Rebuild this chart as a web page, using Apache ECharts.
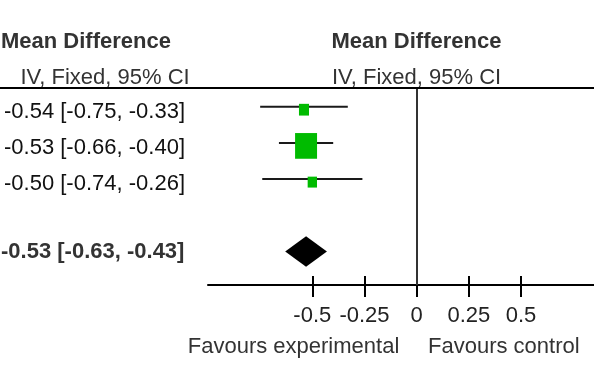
<!DOCTYPE html>
<html>
<head>
<meta charset="utf-8">
<script src="https://cdn.jsdelivr.net/npm/echarts@6/dist/echarts.min.js"></script>
<style>
html,body{margin:0;padding:0;background:#fff;}
#chart{width:594px;height:371px;}
</style>
</head>
<body>
<div id="chart"></div>
<script>
// ---- data ----
const studyRows = [1, 2, 3];
const meanDiff = [-0.54, -0.53, -0.50];
const ciLow = [-0.75, -0.66, -0.74];
const ciHigh = [-0.33, -0.40, -0.26];
const weights = [15, 72, 13];
const pooledRow = 5;
const pooledMean = -0.53;
const pooledLow = -0.63;
const pooledHigh = -0.43;
const xTickValues = [-0.5, -0.25, 0, 0.25, 0.5];
const headerTitle = 'Mean Difference';
const headerSub = 'IV, Fixed, 95% CI';
const favoursLeft = 'Favours experimental';
const favoursRight = 'Favours control';

// ---- helpers ----
const FONT = '"Liberation Sans", Arial, sans-serif';
const fmt = v => v.toFixed(2);
const ciText = (m, l, h) => fmt(m) + ' [' + fmt(l) + ', ' + fmt(h) + ']';

const textData = studyRows.map((r, i) => [meanDiff[i], r, ciText(meanDiff[i], ciLow[i], ciHigh[i]), 0]);
textData.push([pooledMean, pooledRow, ciText(pooledMean, pooledLow, pooledHigh), 1]);

const ciData = studyRows.map((r, i) => [ciLow[i], ciHigh[i], r]);
const squareData = studyRows.map((r, i) => [meanDiff[i], r, weights[i]]);
const diamondData = [[pooledLow, pooledMean, pooledHigh, pooledRow]];

const chart = echarts.init(document.getElementById('chart'), null, {renderer: 'canvas'});

const option = {
  animation: false,
  backgroundColor: '#ffffff',
  grid: {left: 208, right: 0, top: 88.6, bottom: 86, containLabel: false},
  xAxis: [{
    type: 'value', min: -1, max: 0.85, interval: 0.25,
    axisLine: {show: true, lineStyle: {color: '#000', width: 2}},
    axisTick: {show: true, customValues: xTickValues, length: 12, lineStyle: {color: '#000', width: 2}},
    axisLabel: {show: true, customValues: xTickValues, margin: 20, fontSize: 22, color: '#222', fontFamily: FONT},
    splitLine: {show: false}
  }, {
    type: 'value', min: -1, max: 0.85, interval: 0.25, position: 'bottom', offset: 0,
    axisLine: {show: false},
    axisTick: {show: true, inside: true, customValues: xTickValues, length: 9, lineStyle: {color: '#000', width: 2}},
    axisLabel: {show: false},
    splitLine: {show: false}
  }],
  yAxis: {
    type: 'value', inverse: true, min: 0.5, max: 5.925, show: false, splitLine: {show: false}
  },
  graphic: [
    {type: 'line', shape: {x1: 0, y1: 88, x2: 594, y2: 88}, style: {stroke: '#000', lineWidth: 2}, z: 10},
    {type: 'text', x: 1, y: 41.5, style: {text: headerTitle, font: 'bold 22px ' + FONT, fill: '#333', verticalAlign: 'middle', align: 'left'}},
    {type: 'text', x: 20.5, y: 78, style: {text: headerSub, font: '22px ' + FONT, fill: '#333', verticalAlign: 'middle', align: 'left'}},
    {type: 'text', x: 331.5, y: 41.5, style: {text: headerTitle, font: 'bold 22px ' + FONT, fill: '#333', verticalAlign: 'middle', align: 'left'}},
    {type: 'text', x: 332, y: 77.5, style: {text: headerSub, font: '22px ' + FONT, fill: '#333', verticalAlign: 'middle', align: 'left'}},
    {type: 'text', x: 293.5, y: 347, style: {text: favoursLeft, font: '22px ' + FONT, fill: '#333', verticalAlign: 'middle', align: 'center'}},
    {type: 'text', x: 428, y: 347, style: {text: favoursRight, font: '22px ' + FONT, fill: '#333', verticalAlign: 'middle', align: 'left'}}
  ],
  series: [
    {
      name: 'ci', type: 'custom', xAxisIndex: 0, yAxisIndex: 0,
      data: ciData,
      encode: {x: [0, 1], y: 2},
      renderItem: function (params, api) {
        const p1 = api.coord([api.value(0), api.value(2)]);
        const p2 = api.coord([api.value(1), api.value(2)]);
        return {type: 'line', shape: {x1: p1[0], y1: p1[1], x2: p2[0], y2: p2[1]}, style: {stroke: '#1a1a1a', lineWidth: 2}};
      },
      markLine: {
        silent: true, symbol: 'none', label: {show: false},
        lineStyle: {color: '#333', width: 2, type: 'solid'},
        data: [{xAxis: 0}]
      },
      z: 2
    },
    {
      name: 'squares', type: 'scatter', xAxisIndex: 0, yAxisIndex: 0,
      data: squareData,
      symbol: 'rect',
      symbolSize: function (v) { const s = 2.59 * Math.sqrt(v[2]); return [s, s * 1.17]; },
      symbolOffset: [0, 3],
      itemStyle: {color: '#00BB00', opacity: 1},
      z: 3
    },
    {
      name: 'diamond', type: 'custom', xAxisIndex: 0, yAxisIndex: 0,
      data: diamondData,
      encode: {x: [0, 1, 2], y: 3},
      renderItem: function (params, api) {
        const l = api.coord([api.value(0), api.value(3)]);
        const m = api.coord([api.value(1), api.value(3)]);
        const h = api.coord([api.value(2), api.value(3)]);
        const hh = 15.3;
        return {type: 'polygon', shape: {points: [[l[0], l[1]], [m[0], m[1] - hh], [h[0], h[1]], [m[0], m[1] + hh]]}, style: {fill: '#000'}};
      },
      z: 3
    },
    {
      name: 'texts', type: 'custom', xAxisIndex: 0, yAxisIndex: 0,
      data: textData,
      encode: {x: 0, y: 1},
      clip: false,
      renderItem: function (params, api) {
        const d = textData[params.dataIndex];
        const p = api.coord([d[0], d[1]]);
        const bold = d[3] === 1;
        return {type: 'text', x: bold ? 1 : 4, y: p[1] + (bold ? 0 : 5),
          style: {text: d[2], font: (bold ? 'bold ' : '') + '22px ' + FONT, fill: bold ? '#333' : '#111', verticalAlign: 'middle', align: 'left'}};
      },
      z: 4
    }
  ]
};
chart.setOption(option);
</script>
</body>
</html>
